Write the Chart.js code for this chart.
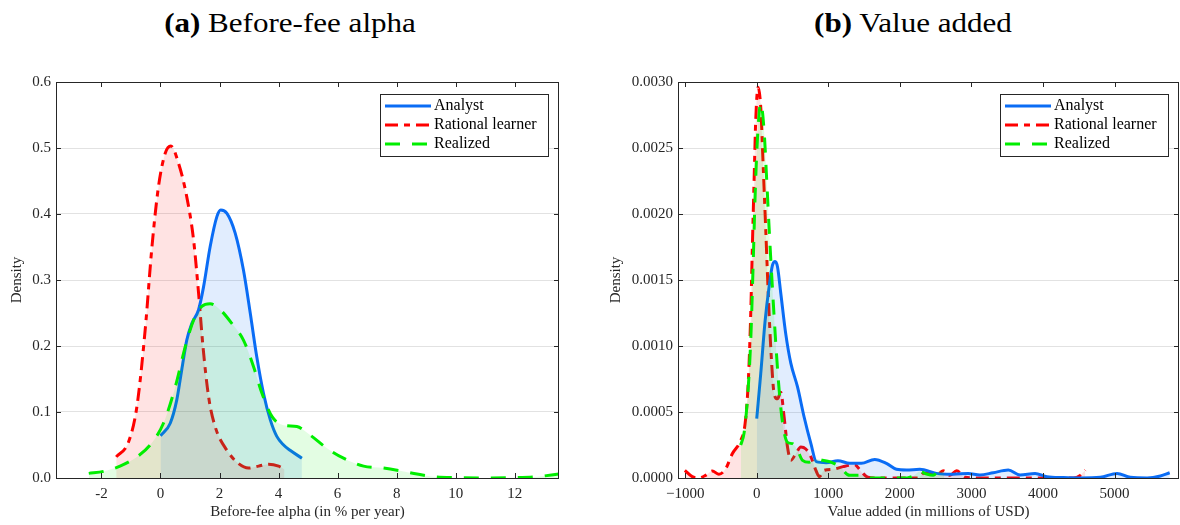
<!DOCTYPE html>
<html>
<head>
<meta charset="utf-8">
<script src="https://cdn.jsdelivr.net/npm/chart.js@4.4.1/dist/chart.umd.min.js"></script>
<style>
  body { margin: 0; background: #fff; width: 1180px; height: 525px; position: relative; overflow: hidden; font-family: 'Liberation Serif', serif; }
  .title { position: absolute; top: 10px; font-size: 27px; line-height: 27px; color: #000; white-space: nowrap; transform: translateX(-50%) scaleX(1.15); }
  canvas { position: absolute; top: 0; }
</style>
</head>
<body>
<div class="title" style="left:290px"><b>(a)</b> Before-fee alpha</div>
<div class="title" style="left:913px"><b>(b)</b> Value added</div>
<canvas id="alpha" width="590" height="525" style="left:0"></canvas>
<canvas id="value" width="580" height="525" style="left:600px"></canvas>
<script>
// ---- (a) before-fee alpha densities ----
const alphaAnalystX = [0, 0.33, 0.55, 0.72, 0.89, 1.06, 1.29, 1.46, 1.68, 1.91, 2.04, 2.25, 2.53, 2.81, 3.04, 3.26, 3.49, 3.72, 3.94, 4.17, 4.39, 4.79];
const alphaAnalystY = [0.064, 0.083, 0.118, 0.164, 0.209, 0.234, 0.255, 0.29, 0.35, 0.396, 0.406, 0.401, 0.371, 0.315, 0.25, 0.184, 0.128, 0.088, 0.063, 0.05, 0.042, 0.03];
const alphaRationalX = [-1.5, -1.08, -0.8, -0.52, -0.29, -0.07, 0.16, 0.35, 0.61, 0.89, 1.12, 1.29, 1.44, 1.63, 1.85, 2.25, 2.64, 2.98, 3.32, 3.66, 4.0, 4.2];
const alphaRationalY = [0.032, 0.055, 0.108, 0.224, 0.35, 0.441, 0.492, 0.503, 0.477, 0.426, 0.361, 0.28, 0.199, 0.123, 0.078, 0.042, 0.022, 0.015, 0.018, 0.021, 0.018, 0.013];
const alphaRealizedX = [-2.43, -1.93, -1.37, -0.8, -0.35, 0.1, 0.5, 0.84, 1.12, 1.4, 1.68, 2.02, 2.42, 2.81, 3.15, 3.44, 3.78, 4.17, 4.62, 5.07, 5.64, 6.2, 6.88, 7.56, 8.12, 8.69, 9.25, 10.0, 10.9, 12.0, 12.76, 13.49];
const alphaRealizedY = [0.007, 0.01, 0.018, 0.032, 0.05, 0.083, 0.138, 0.199, 0.239, 0.26, 0.264, 0.255, 0.234, 0.209, 0.169, 0.128, 0.093, 0.08, 0.078, 0.065, 0.045, 0.03, 0.018, 0.015, 0.011, 0.006, 0.002, 0.0005, 0, 0.0005, 0.002, 0.006];
const alphaTicksX = [-2, 0, 2, 4, 6, 8, 10, 12];
const alphaTicksY = [0, 0.1, 0.2, 0.3, 0.4, 0.5, 0.6];

// ---- (b) value added densities ----
const valueAnalystX = [0, 56, 117, 173, 219, 257, 290, 336, 406, 476, 570, 663, 757, 832, 972, 1134, 1298, 1462, 1648, 1812, 1952, 2092, 2279, 2512, 2745, 2955, 3119, 3305, 3515, 3679, 3889, 4053, 4286, 4520, 4800, 5034, 5220, 5454, 5640, 5770];
const valueAnalystY = [0.00045, 0.00079, 0.00119, 0.00145, 0.00161, 0.00164, 0.0016, 0.0014, 0.00109, 0.00087, 0.00069, 0.00046, 0.00026, 0.000124, 0.000116, 0.000131, 0.000111, 0.000111, 0.000141, 0.000111, 0.000066, 0.00006, 0.000066, 0.000035, 0.000028, 0.000035, 0.000023, 0.00004, 0.00006, 0.000023, 0.000035, 0.00001, 0.000003, 0, 0.000005, 0.000035, 0.000005, 0, 0.000015, 0.00004];
const valueRationalX = [-1004, -901, -808, -715, -621, -528, -434, -341, -224, -163, -117, -84, -61, -37, -14, 19, 56, 89, 126, 163, 201, 243, 290, 336, 383, 430, 476, 546, 616, 686, 757, 827, 873, 943, 1065, 1205, 1368, 1462, 1555, 1700, 1950, 2260, 2325, 2442, 2512, 2605, 2699, 2793, 2909, 3200, 3600, 4000, 4426, 4520, 4590];
const valueRationalY = [0.000058, 0.00001, 0, 0.00002, 0.000053, 0.000028, 0.00007, 0.000184, 0.000285, 0.00041, 0.00074, 0.00124, 0.00175, 0.00225, 0.00271, 0.00296, 0.00281, 0.00238, 0.00188, 0.00137, 0.00094, 0.00064, 0.0006, 0.00065, 0.00046, 0.000235, 0.000134, 0.000184, 0.000235, 0.00022, 0.00016, 0.000058, 0.00001, 0.000058, 0.000066, 0.000086, 0.0001, 0.000048, 0.000005, 0, 0, 0, 0.000035, 0.00004, 0.00002, 0.000055, 0.00002, 0.000055, 0.000005, 0, 0, 0, 0, 0.00002, 0.00006];
const valueRealizedX = [-224, -177, -131, -84, -51, -23, 9, 56, 103, 140, 182, 229, 276, 322, 369, 430, 500, 570, 640, 733, 827, 920, 1018, 1158, 1298, 1462, 1550, 1800, 2100, 2185, 2279, 2372, 2465, 2559, 2620];
const valueRealizedY = [0.00025, 0.00034, 0.00059, 0.00104, 0.0016, 0.00213, 0.00256, 0.00284, 0.00263, 0.00225, 0.0018, 0.00135, 0.00094, 0.00061, 0.00039, 0.00027, 0.00026, 0.00021, 0.000134, 0.00012, 0.000146, 0.000134, 0.000124, 0.000086, 0.00002, 0.00002, 0, 0, 0, 0.000015, 0.00005, 0.00003, 0.00002, 0.00006, 0.00005];
const valueTicksX = [-1000, 0, 1000, 2000, 3000, 4000, 5000];
const valueTicksY = [0, 0.0005, 0.001, 0.0015, 0.002, 0.0025, 0.003];

const seriesNames = ['Analyst', 'Rational learner', 'Realized'];

const ink = '#262626';
const font = { family: 'Liberation Serif', size: 15 };
Chart.defaults.font.family = 'Liberation Serif';
Chart.defaults.color = ink;

const toPoints = (xs, ys) => xs.map((x, i) => ({ x, y: ys[i] }));

function makeDatasets(a, r, g) {
  return [
    {
      label: seriesNames[0], data: a, order: 2,
      borderColor: '#0a6cf5', backgroundColor: 'rgba(10,108,245,0.12)',
      borderWidth: 3, fill: 'origin',
    },
    {
      label: seriesNames[1], data: r, order: 3,
      borderColor: '#ff0000', backgroundColor: 'rgba(255,0,0,0.11)',
      borderWidth: 3, borderDash: [13, 6, 6, 6], fill: 'origin',
    },
    {
      label: seriesNames[2], data: g, order: 1,
      borderColor: '#00ee00', backgroundColor: 'rgba(0,238,0,0.11)',
      borderWidth: 3, borderDash: [15, 12], fill: 'origin',
    },
  ];
}

// box around the axes, inward ticks on all sides and the legend inside the plot
const framePlugin = {
  id: 'frame',
  afterDraw(chart) {
    const { ctx, chartArea: a, scales } = chart;
    ctx.save();
    ctx.strokeStyle = ink;
    ctx.lineWidth = 1;
    ctx.strokeRect(a.left + 0.5, a.top + 0.5, a.right - a.left - 1, a.bottom - a.top);
    ctx.beginPath();
    scales.x.ticks.forEach((t) => {
      const px = Math.round(scales.x.getPixelForValue(t.value)) + 0.5;
      ctx.moveTo(px, a.bottom); ctx.lineTo(px, a.bottom - 5);
      ctx.moveTo(px, a.top); ctx.lineTo(px, a.top + 5);
    });
    scales.y.ticks.forEach((t) => {
      const py = Math.round(scales.y.getPixelForValue(t.value)) + 0.5;
      ctx.moveTo(a.left, py); ctx.lineTo(a.left + 5, py);
      ctx.moveTo(a.right, py); ctx.lineTo(a.right - 5, py);
    });
    ctx.stroke();

    // legend
    const w = 168, h = 62;
    const bx = a.right - 11 - w, by = a.top + 12;
    ctx.fillStyle = '#fff';
    ctx.fillRect(bx, by, w, h);
    ctx.strokeRect(bx + 0.5, by + 0.5, w, h);
    ctx.font = '16px "Liberation Serif"';
    ctx.textBaseline = 'middle';
    chart.data.datasets.forEach((ds, i) => {
      const ry = by + 12 + i * 19;
      ctx.strokeStyle = ds.borderColor;
      ctx.lineWidth = 3;
      ctx.setLineDash(ds.borderDash || []);
      ctx.beginPath();
      ctx.moveTo(bx + 5, ry); ctx.lineTo(bx + 51, ry);
      ctx.stroke();
      ctx.setLineDash([]);
      ctx.fillStyle = '#000';
      ctx.fillText(ds.label, bx + 54, ry);
    });
    ctx.restore();
  },
};

function makeChart(id, cfg) {
  return new Chart(document.getElementById(id), {
    type: 'line',
    data: { datasets: cfg.datasets },
    options: {
      responsive: false,
      animation: false,
      layout: { padding: cfg.padding },
      elements: { point: { radius: 0 }, line: { cubicInterpolationMode: 'monotone' } },
      plugins: { legend: { display: false }, tooltip: { enabled: false }, title: { display: false } },
      scales: {
        x: {
          type: 'linear', min: cfg.xMin, max: cfg.xMax,
          afterBuildTicks: (s) => { s.ticks = cfg.ticksX.map((v) => ({ value: v })); },
          afterFit: (s) => { s.height = 47; },
          grid: { display: false, drawTicks: false },
          border: { display: false },
          ticks: { padding: 7, color: ink, font, maxRotation: 0, callback: cfg.fmtX },
          title: { display: true, text: cfg.xTitle, color: ink, font, padding: { top: 0, bottom: 4 } },
        },
        y: {
          type: 'linear', min: cfg.yMin, max: cfg.yMax,
          afterBuildTicks: (s) => { s.ticks = cfg.ticksY.map((v) => ({ value: v })); },
          afterFit: (s) => { s.width = cfg.yWidth; },
          grid: { color: '#e2e2e2', drawTicks: false },
          border: { display: false },
          ticks: { padding: 5, color: ink, font, callback: cfg.fmtY },
          title: { display: true, text: 'Density', color: ink, font, padding: { top: cfg.yTitlePad, bottom: 0 } },
        },
      },
    },
    plugins: [framePlugin],
  });
}

makeChart('alpha', {
  datasets: makeDatasets(
    toPoints(alphaAnalystX, alphaAnalystY),
    toPoints(alphaRationalX, alphaRationalY),
    toPoints(alphaRealizedX, alphaRealizedY)
  ),
  padding: { top: 82, right: 31, bottom: 0, left: 0 },
  xMin: -3.54, xMax: 13.5, ticksX: alphaTicksX,
  yMin: 0, yMax: 0.6, ticksY: alphaTicksY,
  yWidth: 56, yTitlePad: 8,
  xTitle: 'Before-fee alpha (in % per year)',
  fmtX: (v) => String(v),
  fmtY: (v) => v.toFixed(1),
});

makeChart('value', {
  datasets: makeDatasets(
    toPoints(valueAnalystX, valueAnalystY),
    toPoints(valueRationalX, valueRationalY),
    toPoints(valueRealizedX, valueRealizedY)
  ),
  padding: { top: 82, right: 1, bottom: 0, left: 0 },
  xMin: -1100, xMax: 5900, ticksX: valueTicksX,
  yMin: 0, yMax: 0.003, ticksY: valueTicksY,
  yWidth: 78, yTitlePad: 7,
  xTitle: 'Value added (in millions of USD)',
  fmtX: (v) => String(v).replace('-', '\u2212'),
  fmtY: (v) => v.toFixed(4),
});
</script>
</body>
</html>
